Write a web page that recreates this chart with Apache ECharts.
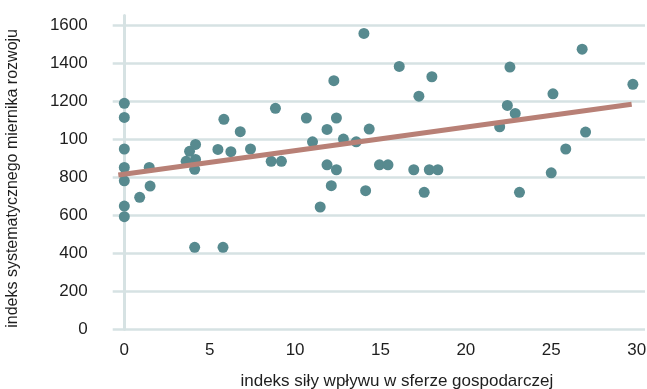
<!DOCTYPE html>
<html>
<head>
<meta charset="utf-8">
<script src="https://cdn.jsdelivr.net/npm/echarts@6/dist/echarts.min.js"></script>
<style>html,body{margin:0;padding:0;background:#fff}#c{width:647px;height:389px}</style>
</head>
<body>
<div id="c"></div>
<script>
// Data
var pointsX = [0,0,0,0,0,0,0,0.9,1.46,1.51,3.62,3.82,4.17,4.17,4.12,4.12,5.48,5.83,5.78,6.24,6.79,7.39,8.6,8.85,9.2,10.66,11.02,11.47,11.87,11.87,12.12,12.27,12.42,12.42,12.83,13.58,14.03,14.13,14.34,14.94,15.44,16.1,16.95,17.25,17.56,17.86,18.01,18.36,21.98,22.43,22.58,22.89,23.14,25.0,25.1,25.85,26.81,27.01,29.78];
var pointsY = [1188,1114,948,851,781,648,592,694,851,753,883,936,972,893,841,431,946,1104,431,934,1039,948,883,1162,883,1111,986,643,1051,865,755,1307,1111,839,1000,986,1556,729,1053,865,865,1382,839,1226,720,839,1328,839,1065,1177,1379,1135,720,823,1238,948,1473,1037,1288];
var trendX = [-0.35, 29.71];
var trendY = [811, 1183];
var xTicks = [0,5,10,15,20,25,30];
var yTicks = [0,200,400,600,800,1000,1200,1400,1600];
var yTickLabels = ['0','200','400','600','800','100','1200','1400','1600'];
var xTitle = 'indeks siły wpływu w sferze gospodarczej';
var yTitle = 'indeks systematycznego miernika rozwoju';

var scatterData = pointsX.map(function(x,i){return [x, pointsY[i]];});
var trendData = trendX.map(function(x,i){return [x, trendY[i]];});

var font = 'Liberation Sans, Arial, sans-serif';
var chart = echarts.init(document.getElementById('c'), null, {renderer:'canvas'});
chart.setOption({
  animation:false,
  grid:{left:112.7,right:2,top:15.5,bottom:59.7,containLabel:false,outerBoundsMode:'none'},
  xAxis:{
    type:'value', min:-0.68, max:30.49,
    axisLine:{show:false}, axisTick:{show:false}, splitLine:{show:false},
    axisLabel:{customValues:xTicks, margin:13, fontSize:17, color:'#1e1e1e', fontFamily:font},
    name:xTitle, nameLocation:'middle', nameGap:44,
    nameTextStyle:{fontSize:17, color:'#1e1e1e', fontFamily:font, padding:[0,0,0,36]}
  },
  yAxis:{
    type:'value', min:0, max:1650, interval:200,
    axisLine:{show:true, onZero:true, lineStyle:{color:'#d6e2e3', width:3}},
    axisTick:{show:false},
    splitLine:{show:true, showMaxLine:false, lineStyle:{color:'#d6e2e3', width:2.5}},
    axisLabel:{customValues:yTicks, margin:25, fontSize:17, color:'#1e1e1e', fontFamily:font,
      padding:[0,0,10,0],
      formatter:function(v){var i=yTicks.indexOf(v);return i>=0?yTickLabels[i]:'';}},
    name:yTitle, nameLocation:'middle', nameGap:92,
    nameTextStyle:{fontSize:16, color:'#1e1e1e', fontFamily:font, padding:[0,12,0,0]}
  },
  series:[
    {type:'scatter', data:scatterData, symbolSize:11, itemStyle:{color:'#578a8f', opacity:1}, z:3},
    {type:'line', data:trendData, symbol:'none', lineStyle:{color:'#b88076', width:5}, z:4}
  ]
});
</script>
</body>
</html>
